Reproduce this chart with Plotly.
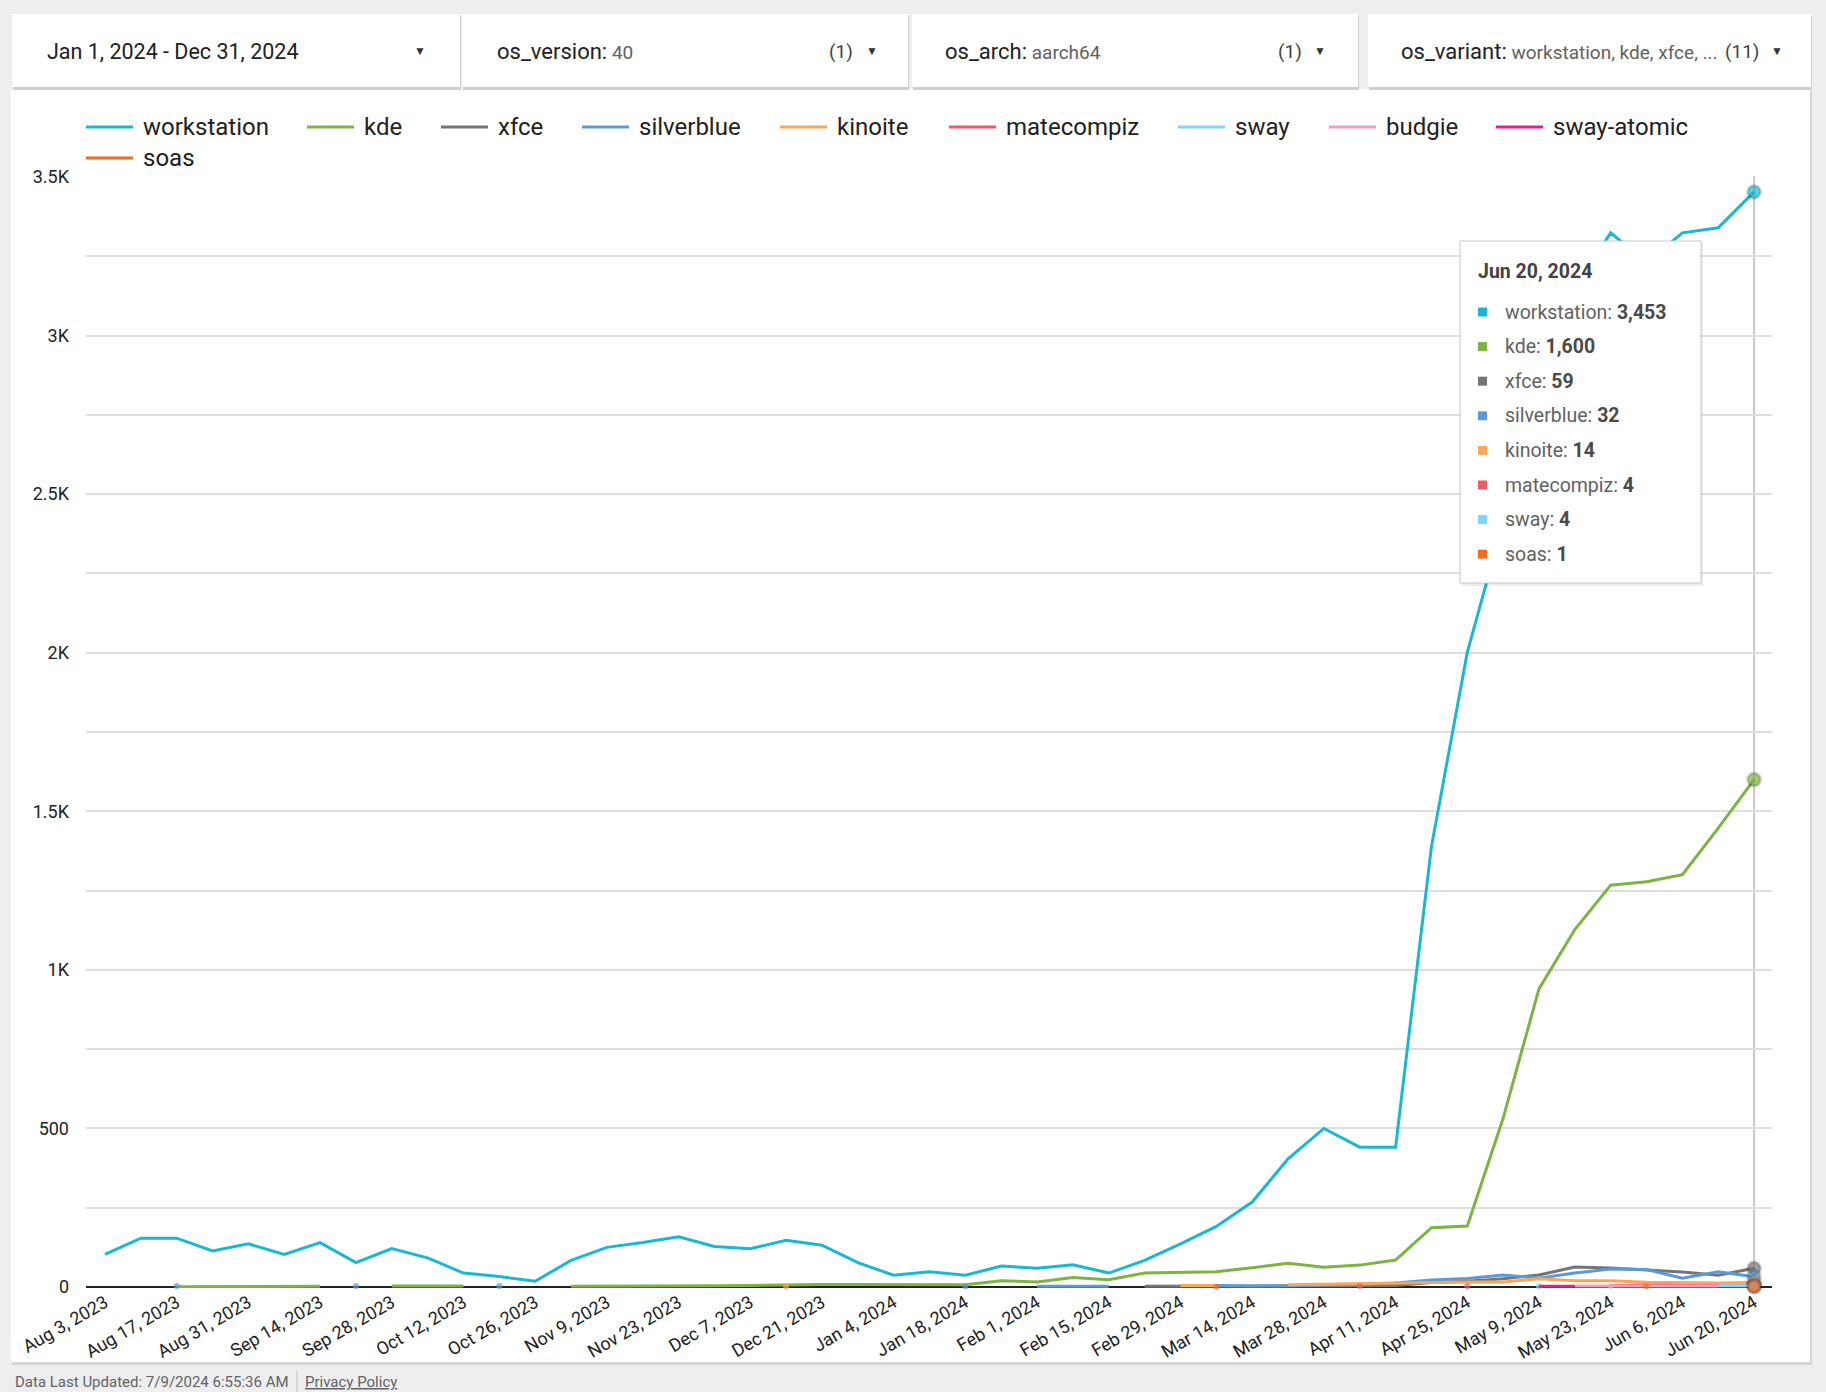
import datetime as dt

import plotly.graph_objects as go

# ---------------------------------------------------------------------------
# Data (weekly counts, os_version 40, aarch64)
# ---------------------------------------------------------------------------
N = None

WEEKS = [
    "2023-08-03", "2023-08-10", "2023-08-17", "2023-08-24", "2023-08-31",
    "2023-09-07", "2023-09-14", "2023-09-21", "2023-09-28", "2023-10-05",
    "2023-10-12", "2023-10-19", "2023-10-26", "2023-11-02", "2023-11-09",
    "2023-11-16", "2023-11-23", "2023-11-30", "2023-12-07", "2023-12-14",
    "2023-12-21", "2023-12-28", "2024-01-04", "2024-01-11", "2024-01-18",
    "2024-01-25", "2024-02-01", "2024-02-08", "2024-02-15", "2024-02-22",
    "2024-02-29", "2024-03-07", "2024-03-14", "2024-03-21", "2024-03-28",
    "2024-04-04", "2024-04-11", "2024-04-18", "2024-04-25", "2024-05-02",
    "2024-05-09", "2024-05-16", "2024-05-23", "2024-05-30", "2024-06-06",
    "2024-06-13", "2024-06-20",
]

TICK_WEEKS = WEEKS[::2]
TICK_LABELS = [
    "Aug 3, 2023", "Aug 17, 2023", "Aug 31, 2023", "Sep 14, 2023",
    "Sep 28, 2023", "Oct 12, 2023", "Oct 26, 2023", "Nov 9, 2023",
    "Nov 23, 2023", "Dec 7, 2023", "Dec 21, 2023", "Jan 4, 2024",
    "Jan 18, 2024", "Feb 1, 2024", "Feb 15, 2024", "Feb 29, 2024",
    "Mar 14, 2024", "Mar 28, 2024", "Apr 11, 2024", "Apr 25, 2024",
    "May 9, 2024", "May 23, 2024", "Jun 6, 2024", "Jun 20, 2024",
]

Y_TICKS = [0, 250, 500, 750, 1000, 1250, 1500, 1750, 2000, 2250, 2500,
           2750, 3000, 3250, 3500]
Y_TICK_LABELS = ["0", "", "500", "", "1K", "", "1.5K", "", "2K", "", "2.5K",
                 "", "3K", "", "3.5K"]

workstation = [103, 154, 154, 114, 136, 103, 140, 77, 121, 92, 44, 33, 18, 84,
               125, 140, 158, 128, 121, 147, 132, 77, 37, 48, 37, 66, 59, 70,
               44, 84, 136, 191, 268, 404, 500, 441, 441, 1388, 2001, 2410,
               2850, 3150, 3324, 3230, 3324, 3340, 3453]
kde = [N, N, 1, 1, 1, 1, 2, N, 3, 3, 3, N, N, 2, 2, 3, 4, 4, 5, 7, 8, 8, 7, 6,
       7, 20, 16, 30, 23, 44, 47, 48, 61, 75, 62, 69, 85, 187, 192, 532, 940,
       1127, 1267, 1278, 1300, 1447, 1600]
xfce = [N] * 29 + [2, 2, 2, 3, 3, 3, 4, 5, 14, 18, 26, 38, 63, 60, 53, 47, 37,
                   59]
silverblue = [N, N, 3, N, N, N, N, 3, N, N, N, 3, N, N, N, N, N, N, N, N, N,
              N, N, N, 2, N, 2, 2, 2, N, N, 5, 3, 4, 6, 8, 13, 22, 27, 38, 28,
              44, 57, 55, 28, 48, 32]
kinoite = [N] * 19 + [1] + [N] * 10 + [5, 5, N, 7, 9, 10, 11, 15, 16, 16, 26,
                                       20, 20, 15, 13, 13, 14]
matecompiz = [N] * 35 + [3, N, N, 3, N, N, N, 4, 6, 5, 4, 4]
sway = [N] * 40 + [2, N, 3, N, N, 4, 4]
budgie = [N] * 41 + [3, 3, 3, 3, 3, N]
sway_atomic = [N] * 40 + [2, 2] + [N] * 5
soas = [N] * 31 + [1] + [N] * 11 + [2, N, N, 1]

NAMES = ["workstation", "kde", "xfce", "silverblue", "kinoite", "matecompiz",
         "sway", "budgie", "sway-atomic", "soas"]
VALUES = [workstation, kde, xfce, silverblue, kinoite, matecompiz, sway,
          budgie, sway_atomic, soas]
COLORS = ["#1ab8cf", "#7cb342", "#757575", "#5b9bd5", "#f9a65a", "#ef5a68",
          "#81d4fa", "#f49ac1", "#e91e8c", "#f26b21"]

# ---------------------------------------------------------------------------
# Page geometry (pixels)
# ---------------------------------------------------------------------------
W, H = 1826, 1392
L, R, T, B = 86, 54, 177, 104
PW, PH = W - L - R, H - T - B
FONT = "Roboto"
BG = "#eeeeee"
GRID = "#dedede"


def fx(p):
    return (p - L) / PW


def fy(p):
    return (H - B - p) / PH


shapes = []
annotations = []


def rect(x0, y0, x1, y1, fill, line=None, layer="below"):
    shapes.append(dict(
        type="rect", xref="paper", yref="paper",
        x0=fx(x0), x1=fx(x1), y0=fy(y1), y1=fy(y0),
        fillcolor=fill, layer=layer,
        line=dict(color=line, width=1) if line else dict(width=0),
    ))


def label(x, y, s, size, color, xanchor="left", yanchor="middle"):
    annotations.append(dict(
        xref="paper", yref="paper", x=fx(x), y=fy(y), text=s,
        showarrow=False, xanchor=xanchor, yanchor=yanchor,
        font=dict(family=FONT, size=size, color=color),
    ))


# ---------------------------------------------------------------------------
# Traces
# ---------------------------------------------------------------------------
fig = go.Figure()
last = len(WEEKS) - 1

for name, vals, color in zip(NAMES, VALUES, COLORS):
    sizes, widths = [], []
    for i, v in enumerate(vals):
        prev_v = vals[i - 1] if i > 0 else None
        next_v = vals[i + 1] if i < last else None
        if v is not None and i == last:
            sizes.append(13)
            widths.append(3)
        elif v is not None and prev_v is None and next_v is None:
            sizes.append(6)
            widths.append(0)
        else:
            sizes.append(0)
            widths.append(0)
    fig.add_trace(go.Scatter(
        x=WEEKS, y=vals, name=name, mode="lines+markers",
        line=dict(color=color, width=3),
        marker=dict(color=color, size=sizes,
                    line=dict(color="rgba(0,0,0,0.22)", width=widths)),
        connectgaps=False, showlegend=False, hoverinfo="skip",
        cliponaxis=False,
    ))

# ---------------------------------------------------------------------------
# Cards, filter bar, footer
# ---------------------------------------------------------------------------
rect(12, 91, 1812, 1365, "#d6d6d6")
rect(11, 89, 1810, 1362, "#ffffff")

FILTER_BOXES = [(12, 460), (462, 908), (912, 1358), (1368, 1811)]
for x0, x1 in FILTER_BOXES:
    rect(x0 + 1, 16, x1 + 1, 90, "#cfcfcf")
    rect(x0, 14, x1, 87, "#ffffff")

FY = 51
label(45, FY, "Jan 1, 2024 - Dec 31, 2024", 21.5, "#202124")
label(420, FY, "▼", 12, "#333333", xanchor="center")
label(495, FY, "os_version:<span style='font-size:19px;color:#616161'> 40</span>",
      22, "#202124")
label(855, FY, "(1)", 19, "#424242", xanchor="right")
label(872, FY, "▼", 12, "#333333", xanchor="center")
label(943, FY, "os_arch:<span style='font-size:19px;color:#616161'> aarch64</span>",
      22, "#202124")
label(1304, FY, "(1)", 19, "#424242", xanchor="right")
label(1320, FY, "▼", 12, "#333333", xanchor="center")
label(1399, FY,
      "os_variant:<span style='font-size:19px;color:#616161'> workstation, kde, xfce, ...</span>",
      22, "#202124")
label(1761, FY, "(11)", 19, "#424242", xanchor="right")
label(1777, FY, "▼", 12, "#333333", xanchor="center")

label(13, 1382, "Data Last Updated: 7/9/2024 6:55:36 AM", 15, "#5f6368")
shapes.append(dict(type="line", xref="paper", yref="paper",
                   x0=fx(297), x1=fx(297), y0=fy(1371), y1=fy(1392),
                   line=dict(color="#bdbdbd", width=1)))
label(303, 1382, "<span style='text-decoration:underline'>Privacy Policy</span>",
      15, "#5f6368")

# ---------------------------------------------------------------------------
# Legend (drawn by hand to match the original's spacing)
# ---------------------------------------------------------------------------
LEGEND_X = [86, 307, 441, 582, 780, 949, 1178, 1329, 1496, 86]
LEGEND_ROW_Y = [127, 158]
for i, (name, color) in enumerate(zip(NAMES, COLORS)):
    y = LEGEND_ROW_Y[0] if i < 9 else LEGEND_ROW_Y[1]
    x = LEGEND_X[i]
    shapes.append(dict(type="line", xref="paper", yref="paper",
                       x0=fx(x), x1=fx(x + 47), y0=fy(y), y1=fy(y),
                       line=dict(color=color, width=3), layer="above"))
    label(x + 55, y, name, 24, "#212121")

# ---------------------------------------------------------------------------
# Hover state at the last week: spike line + tooltip
# ---------------------------------------------------------------------------
shapes.append(dict(type="line", xref="x", yref="paper",
                   x0=WEEKS[-1], x1=WEEKS[-1], y0=0, y1=1.001,
                   line=dict(color="#c8c8c8", width=2), layer="between"))

rect(1461, 243, 1703, 586, "rgba(0,0,0,0.07)", layer="above")
rect(1460, 241, 1701, 583, "#ffffff", line="#c8c8c8", layer="above")
last_day = dt.date.fromisoformat(WEEKS[-1])
label(1476, 271, f"<b>{last_day:%b} {last_day.day}, {last_day.year}</b>", 19.5,
      "#424242")
row = 0
for name, vals, color in zip(NAMES, VALUES, COLORS):
    v = vals[-1]
    if v is None:
        continue
    y = 312 + 34.6 * row
    rect(1478, y - 4.5, 1487, y + 4.5, color, layer="above")
    label(1503, y,
          f"{name}: <span style='color:#4a4a4a'><b>{v:,}</b></span>",
          19.5, "#616161")
    row += 1

# ---------------------------------------------------------------------------
# Layout
# ---------------------------------------------------------------------------
fig.update_layout(
    width=W, height=H,
    margin=dict(l=L, r=R, t=T, b=B, pad=0),
    paper_bgcolor=BG,
    plot_bgcolor="rgba(0,0,0,0)",
    showlegend=False,
    hovermode=False,
    font=dict(family=FONT, color="#222222"),
    shapes=shapes,
    annotations=annotations,
    xaxis=dict(
        type="date",
        range=["2023-07-30 07:00", "2024-06-23 12:00"],
        tickmode="array", tickvals=TICK_WEEKS, ticktext=TICK_LABELS,
        tickangle=-30, tickfont=dict(size=18, color="#222222"),
        showgrid=False, zeroline=False, showline=False, ticks="",
    ),
    yaxis=dict(
        range=[-3.15, 3500],
        tickmode="array", tickvals=Y_TICKS, ticktext=Y_TICK_LABELS,
        tickfont=dict(size=18, color="#222222"),
        showgrid=True, gridcolor=GRID, gridwidth=1.5,
        zeroline=True, zerolinecolor="#222222", zerolinewidth=1.5,
        showline=False, ticks="", ticklabelstandoff=16,
    ),
)

# the page keeps the browser's default 8px body margin otherwise
fig.write_html(
    "out.html",
    config={"displayModeBar": False},
    post_script="document.body.style.margin='0';"
                "document.body.style.background='#eeeeee';",
)
